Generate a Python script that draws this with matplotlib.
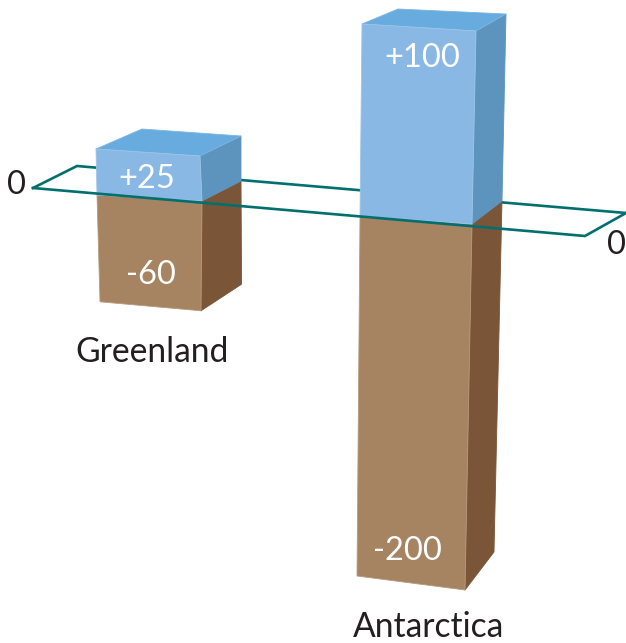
import matplotlib
matplotlib.use("Agg")
import matplotlib.pyplot as plt
from matplotlib.patches import Polygon

regions = ["Greenland", "Antarctica"]
gains = [25, 100]
losses = [-60, -200]
zero_labels = ["0", "0"]

BLUE_FRONT, BLUE_TOP, BLUE_SIDE = "#88b8e3", "#68acdf", "#5d94bd"
BROWN_FRONT, BROWN_SIDE = "#a68461", "#7b5537"
TEAL = "#00706f"
INK = "#231f20"
FONT = "Lato"

# Hand-built perspective: each column has its corners on the zero plane, and
# each corner moves along its own pixels-per-unit vectors above/below zero.
columns = [
    dict(
        zero=dict(fl=(97, 195), fr=(202, 201), br=(241, 181), bl=(142, 174)),
        up=dict(fl=(-0.04, 1.84), fr=(-0.08, 1.80), br=(0.0, 1.80), bl=(0.0, 1.80)),
        down=dict(fl=(-0.05, 1.78), fr=(0.017, 1.83), br=(-0.01, 1.72)),
        gain_pos=(147, 179), loss_pos=(151, 275), name_pos=(152, 362),
    ),
    dict(
        zero=dict(fl=(360, 216), fr=(472, 224), br=(502, 201), bl=(396, 194)),
        up=dict(fl=(0.02, 1.92), fr=(0.04, 1.93), br=(0.04, 1.87), bl=(0.02, 1.85)),
        down=dict(fl=(0.015, 1.80), fr=(0.035, 1.83), br=(0.04, 1.755)),
        gain_pos=(422, 58), loss_pos=(407, 551), name_pos=(429, 637),
    ),
]


def corner(col, name, value):
    x0, y0 = col["zero"][name]
    vx, vy = col["up" if value >= 0 else "down"][name]
    return (x0 + vx * value, y0 - vy * value)


def face(ax, points, color, edge=None, zorder=3):
    ax.add_patch(Polygon(points, closed=True, facecolor=color,
                         edgecolor=edge or color, linewidth=0.6, zorder=zorder,
                         joinstyle="round"))


fig = plt.figure(figsize=(6.26, 6.43), dpi=100)
ax = fig.add_axes([0, 0, 1, 1])
ax.set_xlim(0, 626)
ax.set_ylim(643, 0)
ax.axis("off")

# Zero plane: the far edge passes behind the columns, the near edge in front.
ax.plot([33, 77, 626], [188, 166, 213], color=TEAL, lw=1.9, zorder=1,
        solid_joinstyle="miter")
ax.plot([33, 585, 626], [188, 236, 213], color=TEAL, lw=1.9, zorder=5,
        solid_joinstyle="miter")

for col, name, gain, loss in zip(columns, regions, gains, losses):
    fl0, fr0, br0 = (col["zero"][k] for k in ("fl", "fr", "br"))
    fl_lo, fr_lo, br_lo = (corner(col, k, loss) for k in ("fl", "fr", "br"))
    fl_hi, fr_hi, br_hi, bl_hi = (corner(col, k, gain) for k in ("fl", "fr", "br", "bl"))

    face(ax, [fl0, fr0, fr_lo, fl_lo], BROWN_FRONT, "#b89b7c")
    face(ax, [fr0, br0, br_lo, fr_lo], BROWN_SIDE, zorder=2)
    face(ax, [fl0, fr0, fr_hi, fl_hi], BLUE_FRONT, "#9cc6ea", zorder=4)
    face(ax, [fr0, br0, br_hi, fr_hi], BLUE_SIDE, zorder=3)
    face(ax, [fl_hi, fr_hi, br_hi, bl_hi], BLUE_TOP, "#7ab6e3", zorder=3)

    ax.text(*col["gain_pos"], f"+{gain}", color="white", fontsize=23.5, family=FONT,
            ha="center", va="center", zorder=6)
    ax.text(*col["loss_pos"], f"{loss}", color="white", fontsize=23.5, family=FONT,
            ha="center", va="center", zorder=6)
    ax.text(*col["name_pos"], name, color=INK, fontsize=24.2, family=FONT,
            ha="center", va="baseline", zorder=6)

ax.text(16, 185, zero_labels[0], color=INK, fontsize=23.5, family=FONT,
        ha="center", va="center")
ax.text(625.5, 245, zero_labels[1], color=INK, fontsize=23.5, family=FONT,
        ha="right", va="center")

fig.savefig("out.png", dpi=100, facecolor="white")
